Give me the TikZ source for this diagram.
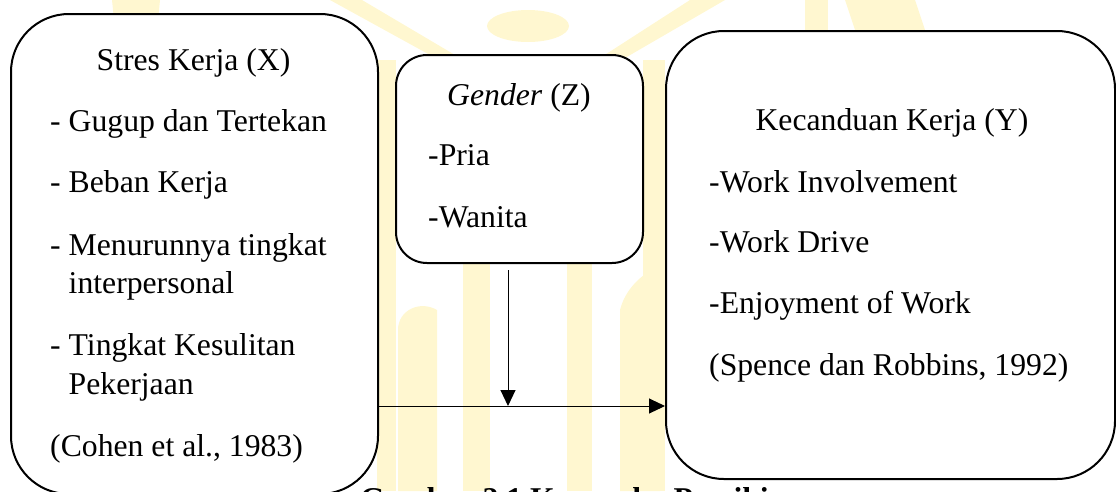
\documentclass[tikz,border=0pt]{standalone}
\usepackage{fontspec}
\setmainfont{Liberation Serif}
\usetikzlibrary{arrows.meta}
\definecolor{wm}{RGB}{255,247,208}
\tikzset{
  box/.style={draw=black, line width=2pt, fill=white, inner sep=0pt, anchor=north west},
  txt/.style={inner sep=0pt, anchor=base west, font=\fontsize{31.7}{38}\selectfont},
  ctxt/.style={inner sep=0pt, anchor=base, font=\fontsize{31.7}{38}\selectfont},
  arr/.style={line width=1pt, -{Triangle[length=16pt,width=15pt]}},
  wmfill/.style={fill=wm, draw=none}
}
\begin{document}
\begin{tikzpicture}[x=1pt,y=-1pt]
\useasboundingbox (0,0) rectangle (1116,491);
\clip (0,0) rectangle (1116,491);
% watermark (faint logo)
\fill[wm] (528,26) ellipse [x radius=41, y radius=16];
\path[wmfill] (330,0) -- (362,0) -- (455,55) -- (430,55) -- cycle;
\path[wmfill] (690,0) -- (725,0) -- (625,58) -- (600,58) -- cycle;
\path[wmfill] (112,0) -- (160,0) -- (158,20) -- (114,20) -- cycle;
\path[wmfill] (805,0) -- (828,0) -- (828,30) -- (805,30) -- cycle;
\path[wmfill] (845,0) -- (915,0) -- (925,30) -- (855,30) -- cycle;
\path[wmfill] (377,60) rectangle (396,491);
\path[wmfill] (398,330) .. controls (398,310) and (420,300) .. (437,310) -- (437,491) -- (398,491) -- cycle;
\path[wmfill] (463,262) rectangle (490,491);
\path[wmfill] (567,262) rectangle (592,491);
\path[wmfill] (620,310) .. controls (625,290) and (640,275) .. (660,265) -- (660,491) -- (620,491) -- cycle;
\path[wmfill] (643,60) rectangle (665,491);
% boxes
\node[box, minimum width=367pt, minimum height=480pt, rounded corners=58pt] (bx) at (10,13) {};
\node[box, minimum width=247pt, minimum height=208pt, rounded corners=31pt] (bz) at (395,54) {};
\node[box, minimum width=449pt, minimum height=448pt, rounded corners=58pt] (by) at (665,30) {};
% left box text
\node[ctxt] (x0) at (193.5,70.7) {Stres Kerja (X)};
\node[txt] (x1) at (50,131.7) {- Gugup dan Tertekan};
\node[txt] (x2) at (50,192.7) {- Beban Kerja};
\node[txt] (x3) at (50,255) {- Menurunnya tingkat};
\node[txt] (x3b) at (68.5,293.5) {interpersonal};
\node[txt] (x4) at (50,355) {- Tingkat Kesulitan};
\node[txt] (x4b) at (68.5,394) {Pekerjaan};
\node[txt] (x5) at (50,456.5) {(Cohen et al., 1983)};
% gender box text
\node[ctxt] (z0) at (519,105) {\textit{Gender} (Z)};
\node[txt] (z1) at (428,165) {-Pria};
\node[txt] (z2) at (428,227) {-Wanita};
% right box text
\node[ctxt] (y0) at (892,130) {Kecanduan Kerja (Y)};
\node[txt] (y1) at (709,192) {-Work Involvement};
\node[txt] (y2) at (709,252) {-Work Drive};
\node[txt] (y3) at (709,313) {-Enjoyment of Work};
\node[txt] (y4) at (709,375) {(Spence dan Robbins, 1992)};
% connectors
\coordinate (zs) at (508,270);
\coordinate (hx) at (bx.east |- 0,406);
\coordinate (hy) at (by.west |- 0,406);
\coordinate (mid) at (508,406);
\draw[line width=1pt] (hx) -- (mid);
\draw[arr] (mid) -- (hy);
\draw[arr] (zs) -- (mid);
% caption (cut off at bottom edge, as in the reference)
\node[txt, font=\fontsize{31.7}{38}\selectfont\bfseries] (cap) at (360,509) {Gambar 2.1 Kerangka Pemikiran};
\end{tikzpicture}
\end{document}
